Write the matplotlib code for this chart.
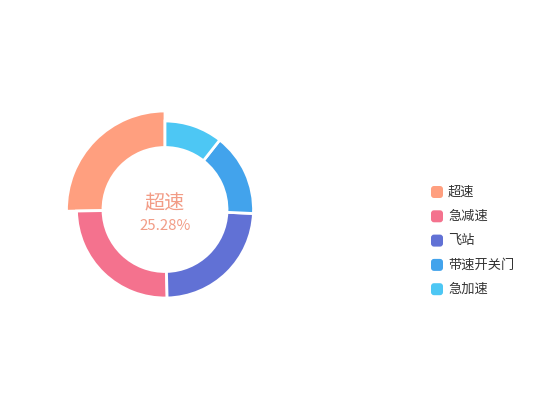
import matplotlib
matplotlib.use("Agg")
import matplotlib.pyplot as plt
from matplotlib.patches import FancyBboxPatch

plt.rcParams['font.family'] = ['Noto Sans CJK SC', 'DejaVu Sans']

# data (percent shares)
names = ["超速", "急减速", "飞站", "带速开关门", "急加速"]
values = [25.28, 25.10, 23.90, 15.10, 10.62]
colors = ["#FF9F7F", "#F4728E", "#6171D5", "#42A3EC", "#4DC7F4"]
highlight = 0

W, H = 550, 420
fig = plt.figure(figsize=(W / 100, H / 100), dpi=100)
ax = fig.add_axes([0, 0, 1, 1])

cx, cy = 165, H - 209.5
r_out, r_in = 88.5, 62

wedges, _ = ax.pie(values, colors=colors, startangle=90, counterclock=True,
                   center=(cx, cy), radius=r_out,
                   wedgeprops=dict(width=r_out - r_in, edgecolor="white", linewidth=2))

# emphasized slice sticks out a bit
big = r_out + 10
wedges[highlight].set_radius(big)
wedges[highlight].set_width(big - r_in)

pct = values[highlight] / sum(values) * 100
ax.text(cx, cy + 6, names[highlight], ha="center", va="center",
        fontsize=14.5, color="#F29C86")
ax.text(cx, cy - 17, f"{pct:.2f}%", ha="center", va="center",
        fontsize=10.8, color="#F29C86")

# legend
lx, ly, step = 431, H - 192, 24.3
for i, (n, c) in enumerate(zip(names, colors)):
    y = ly - i * step
    ax.add_patch(FancyBboxPatch((lx + 1.5, y - 4.5), 9, 9,
                                boxstyle="round,pad=1.5,rounding_size=3",
                                fc=c, ec="none"))
    ax.text(lx + 17, y, n, ha="left", va="center", fontsize=9.5, color="#333333")

ax.set_xlim(0, W)
ax.set_ylim(0, H)
ax.set_aspect("equal")
ax.axis("off")

fig.savefig("out.png", dpi=100)
plt.close(fig)
